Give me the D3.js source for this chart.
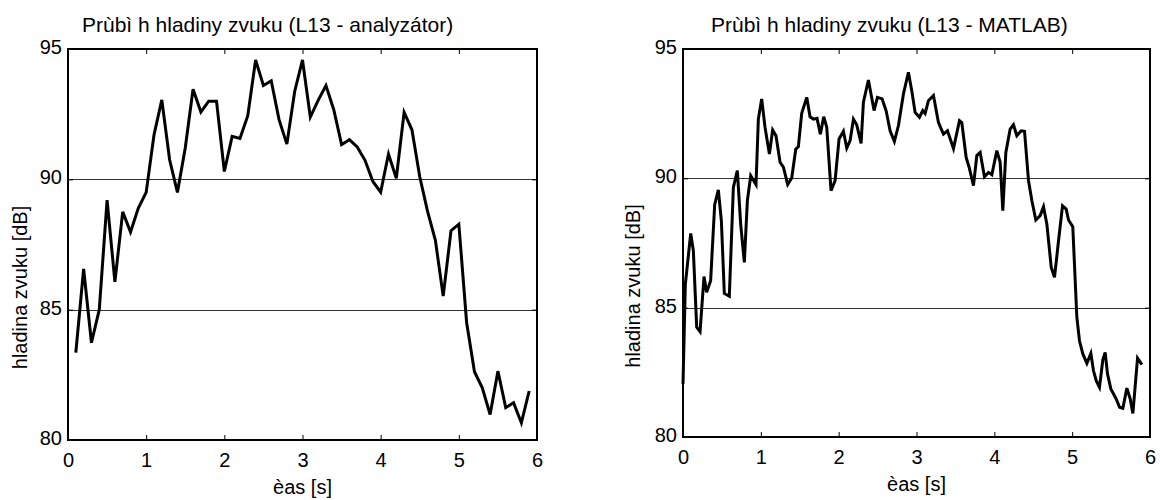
<!DOCTYPE html>
<html>
<head>
<meta charset="utf-8">
<script src="https://cdn.jsdelivr.net/npm/d3@7"></script>
<style>
  body { margin: 0; background: #fff; }
  svg { font-family: "Liberation Sans", Arial, sans-serif; }
</style>
</head>
<body>
<div id="chart"></div>
<script>
// analyzer series (one value every 0.1 s)
const analyzerTime = [0.1, 0.2, 0.3, 0.4, 0.5, 0.6, 0.7, 0.8, 0.9, 1.0,
  1.1, 1.2, 1.3, 1.4, 1.5, 1.6, 1.7, 1.8, 1.9, 2.0,
  2.1, 2.2, 2.3, 2.4, 2.5, 2.6, 2.7, 2.8, 2.9, 3.0,
  3.1, 3.2, 3.3, 3.4, 3.5, 3.6, 3.7, 3.8, 3.9, 4.0,
  4.1, 4.2, 4.3, 4.4, 4.5, 4.6, 4.7, 4.8, 4.9, 5.0,
  5.1, 5.2, 5.3, 5.4, 5.5, 5.6, 5.7, 5.8, 5.9];
const analyzerLevel = [83.35, 86.56, 83.73, 85.0, 89.2, 86.07, 88.75, 87.98, 88.9, 89.5,
  91.7, 93.05, 90.75, 89.5, 91.2, 93.46, 92.58, 93.0, 93.0, 90.3,
  91.65, 91.57, 92.44, 94.58, 93.6, 93.78, 92.29, 91.35, 93.37, 94.58,
  92.39, 93.03, 93.6, 92.67, 91.33, 91.52, 91.24, 90.73, 89.92, 89.51,
  90.97, 90.04, 92.57, 91.9, 90.1, 88.77, 87.66, 85.52, 88.03, 88.28,
  84.5, 82.62, 82.0, 80.98, 82.64, 81.24, 81.43, 80.66, 81.88];

// MATLAB series
const matlabTime = [0.000, 0.030, 0.099, 0.133, 0.176, 0.219, 0.270, 0.304, 0.355, 0.407,
  0.454, 0.493, 0.531, 0.595, 0.647, 0.698, 0.741, 0.788, 0.827, 0.870,
  0.938, 0.968, 1.011, 1.054, 1.110, 1.152, 1.195, 1.247, 1.290, 1.345,
  1.397, 1.449, 1.482, 1.525, 1.590, 1.632, 1.675, 1.722, 1.765, 1.808,
  1.847, 1.902, 1.954, 2.005, 2.061, 2.104, 2.147, 2.190, 2.232, 2.288,
  2.318, 2.382, 2.455, 2.498, 2.558, 2.609, 2.661, 2.716, 2.768, 2.832,
  2.896, 2.939, 2.982, 3.038, 3.081, 3.111, 3.153, 3.218, 3.282, 3.346,
  3.398, 3.475, 3.552, 3.582, 3.638, 3.676, 3.732, 3.775, 3.818, 3.873,
  3.925, 3.968, 4.032, 4.075, 4.109, 4.148, 4.203, 4.246, 4.289, 4.345,
  4.388, 4.439, 4.482, 4.533, 4.589, 4.632, 4.675, 4.731, 4.773, 4.825,
  4.876, 4.923, 4.953, 5.008, 5.060, 5.094, 5.137, 5.189, 5.240, 5.274,
  5.309, 5.351, 5.394, 5.424, 5.454, 5.497, 5.532, 5.566, 5.609, 5.651,
  5.703, 5.746, 5.780, 5.840, 5.896];
const matlabLevel = [82.05, 85.9, 87.87, 87.2, 84.24, 84.07, 86.2, 85.6, 86.04, 88.98,
  89.55, 88.36, 85.55, 85.44, 89.65, 90.3, 88.23, 86.75, 89.14, 90.1,
  89.76, 92.29, 93.07, 91.97, 90.94, 91.87, 91.65, 90.62, 90.43, 89.76,
  90.01, 91.13, 91.22, 92.51, 93.13, 92.38, 92.29, 92.32, 91.71, 92.38,
  91.97, 89.52, 89.91, 91.52, 91.82, 91.17, 91.46, 92.29, 92.07, 91.35,
  92.94, 93.8, 92.62, 93.13, 93.07, 92.62, 91.84, 91.43, 92.04, 93.26,
  94.1, 93.39, 92.55, 92.36, 92.62, 92.51, 93.0, 93.2, 92.16, 91.71,
  91.84, 91.15, 92.23, 92.16, 90.81, 90.43, 89.72, 90.88, 91.0, 90.06,
  90.23, 90.14, 91.07, 90.62, 88.75, 91.0, 91.9, 92.07, 91.65, 91.84,
  91.82, 89.91, 89.14, 88.39, 88.56, 88.9, 88.23, 86.56, 86.17, 87.59,
  88.94, 88.81, 88.39, 88.13, 84.63, 83.72, 83.21, 82.85, 83.23, 82.56,
  82.18, 81.92, 82.98, 83.27, 82.44, 81.86, 81.66, 81.47, 81.15, 81.11,
  81.89, 81.47, 80.91, 83.05, 82.8];

const xTicks = [0, 1, 2, 3, 4, 5, 6];
const yTicks = [80, 85, 90, 95];
const gridLevels = [85, 90];
const titles = ["Prùbì h hladiny zvuku (L13 - analyzátor)", "Prùbì h hladiny zvuku (L13 - MATLAB)"];
const xLabel = "èas [s]";
const yLabel = "hladina zvuku [dB]";

const svg = d3.select("#chart").append("svg")
  .attr("width", 1160)
  .attr("height", 500);

const panels = [
  { title: titles[0], time: analyzerTime, level: analyzerLevel,
    left: 68, right: 537, top: 49, bottom: 440, titleX: 82, ylabelX: 27 },
  { title: titles[1], time: matlabTime, level: matlabLevel,
    left: 683, right: 1150, top: 49, bottom: 437, titleX: 711, ylabelX: 640 }
];

panels.forEach(drawPanel);

function drawPanel(p) {
  const x = d3.scaleLinear().domain([0, 6]).range([p.left, p.right]);
  const y = d3.scaleLinear().domain([80, 95]).range([p.bottom, p.top]);
  const g = svg.append("g");

  // horizontal grid lines
  g.selectAll(".grid")
    .data(gridLevels)
    .enter().append("line")
    .attr("x1", p.left).attr("x2", p.right)
    .attr("y1", d => Math.round(y(d)) + 0.5)
    .attr("y2", d => Math.round(y(d)) + 0.5)
    .attr("stroke", "#333")
    .attr("stroke-width", 1);

  const styleAxis = sel => {
    sel.select(".domain").remove();
    sel.selectAll(".tick line").attr("stroke", "#000");
    sel.selectAll(".tick text").attr("fill", "#000").style("font-size", "20px");
  };

  g.append("g")
    .attr("transform", `translate(0,${p.bottom})`)
    .call(d3.axisBottom(x).tickValues(xTicks).tickFormat(d3.format("d"))
      .tickSizeInner(-5).tickSizeOuter(0).tickPadding(13))
    .call(styleAxis);

  g.append("g")
    .attr("transform", `translate(0,${p.top})`)
    .call(d3.axisTop(x).tickValues(xTicks).tickSizeInner(-5).tickSizeOuter(0).tickFormat(""))
    .call(styleAxis);

  g.append("g")
    .attr("transform", `translate(${p.left},0)`)
    .call(d3.axisLeft(y).tickValues(yTicks).tickSizeInner(-5).tickSizeOuter(0).tickPadding(6))
    .call(styleAxis)
    .selectAll(".tick text").attr("dy", "0.22em");

  g.append("g")
    .attr("transform", `translate(${p.right},0)`)
    .call(d3.axisRight(y).tickValues(yTicks).tickSizeInner(-5).tickSizeOuter(0).tickFormat(""))
    .call(styleAxis);

  // axes box
  g.append("rect")
    .attr("x", p.left).attr("y", p.top)
    .attr("width", p.right - p.left)
    .attr("height", p.bottom - p.top)
    .attr("fill", "none")
    .attr("stroke", "#000")
    .attr("stroke-width", 2);

  const points = p.time.map((t, i) => [t, p.level[i]]);
  const line = d3.line().x(d => x(d[0])).y(d => y(d[1]));

  g.append("path")
    .datum(points)
    .attr("d", line)
    .attr("fill", "none")
    .attr("stroke", "#000")
    .attr("stroke-width", 3);

  g.append("text")
    .attr("x", p.titleX)
    .attr("y", 32)
    .style("font-size", "21px")
    .text(p.title);

  g.append("text")
    .attr("x", (p.left + p.right) / 2)
    .attr("y", p.bottom + 54)
    .attr("text-anchor", "middle")
    .style("font-size", "20px")
    .text(xLabel);

  g.append("text")
    .attr("transform", `translate(${p.ylabelX},${(p.top + p.bottom) / 2 + 43}) rotate(-90)`)
    .attr("text-anchor", "middle")
    .style("font-size", "20px")
    .text(yLabel);
}
</script>
</body>
</html>
